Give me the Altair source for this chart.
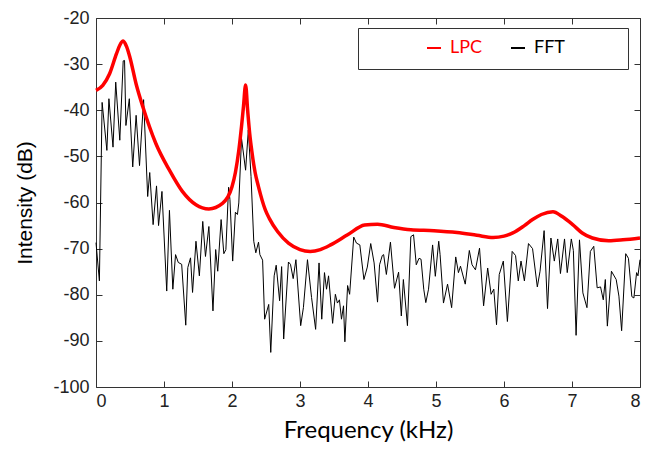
import altair as alt
import pandas as pd

# ---- data ----
fft_freq = [0.00, 0.05, 0.09, 0.16, 0.19, 0.25, 0.29, 0.35, 0.40, 0.42, 0.44, 0.49, 0.54, 0.59, 0.64,
            0.70, 0.76, 0.79, 0.84, 0.89, 0.92, 0.97, 1.04, 1.08, 1.13, 1.17, 1.21, 1.26, 1.32, 1.35,
            1.39, 1.42, 1.47, 1.52, 1.57, 1.61, 1.66, 1.72, 1.76, 1.79, 1.84, 1.88, 1.91, 1.95, 1.97,
            2.01, 2.05, 2.08, 2.10, 2.14, 2.20, 2.24, 2.28, 2.32, 2.35, 2.39, 2.41, 2.45, 2.48, 2.54,
            2.57, 2.62, 2.65, 2.70, 2.73, 2.76, 2.83, 2.86, 2.90, 2.94, 3.01, 3.05, 3.11, 3.17, 3.23,
            3.28, 3.32, 3.36, 3.39, 3.42, 3.48, 3.52, 3.55, 3.58, 3.61, 3.64, 3.66, 3.70, 3.73, 3.79,
            3.83, 3.88, 3.94, 3.99, 4.04, 4.09, 4.14, 4.17, 4.21, 4.23, 4.27, 4.33, 4.39, 4.45, 4.49,
            4.52, 4.58, 4.63, 4.67, 4.71, 4.75, 4.78, 4.82, 4.85, 4.89, 4.95, 4.99, 5.04, 5.06, 5.11,
            5.17, 5.23, 5.29, 5.33, 5.36, 5.43, 5.49, 5.53, 5.58, 5.64, 5.70, 5.76, 5.81, 5.85, 5.89,
            5.93, 5.99, 6.05, 6.12, 6.17, 6.21, 6.25, 6.30, 6.36, 6.42, 6.49, 6.53, 6.59, 6.64, 6.69,
            6.74, 6.79, 6.83, 6.89, 6.93, 6.99, 7.02, 7.06, 7.11, 7.16, 7.22, 7.27, 7.32, 7.37, 7.42,
            7.46, 7.49, 7.52, 7.58, 7.65, 7.69, 7.73, 7.79, 7.83, 7.88, 7.91, 7.95, 7.97, 8.00]
fft_db = [-68.7, -77.0, -38.3, -48.7, -37.5, -48.0, -33.9, -46.5, -29.3, -29.2, -43.3, -37.5, -52.3, -41.1, -52.0,
          -37.7, -58.7, -53.5, -64.8, -56.4, -65.0, -57.6, -79.2, -61.7, -78.8, -71.3, -73.0, -73.4, -86.6, -74.1,
          -72.0, -79.5, -68.4, -75.9, -64.1, -71.7, -65.2, -83.5, -70.2, -74.9, -63.7, -71.1, -70.2, -56.7, -59.4,
          -72.7, -62.1, -62.6, -60.1, -46.1, -53.0, -44.3, -54.4, -68.4, -70.9, -68.6, -71.3, -72.5, -85.3, -82.1,
          -92.5, -75.9, -73.6, -81.3, -73.9, -89.6, -72.9, -73.4, -76.5, -72.4, -86.7, -82.8, -72.4, -80.6, -87.5,
          -73.1, -85.3, -75.2, -78.8, -75.9, -86.2, -79.9, -81.8, -81.1, -85.3, -82.4, -90.2, -78.0, -79.9, -67.5,
          -68.8, -69.2, -76.7, -74.0, -68.9, -73.1, -81.6, -73.5, -71.5, -71.3, -75.6, -68.6, -78.6, -75.1, -84.6,
          -76.7, -86.7, -67.4, -67.0, -73.5, -72.1, -72.3, -78.8, -81.7, -78.8, -69.2, -76.0, -68.4, -71.3, -81.8,
          -77.7, -82.8, -71.8, -75.2, -73.8, -77.7, -70.4, -73.5, -74.6, -69.9, -82.4, -74.2, -79.9, -78.8, -86.5,
          -75.6, -72.7, -85.8, -70.6, -71.5, -77.0, -72.7, -77.0, -68.9, -70.0, -78.3, -74.9, -66.1, -83.0, -67.7,
          -72.7, -67.9, -75.4, -67.9, -75.2, -67.9, -70.4, -88.8, -68.1, -79.6, -82.8, -70.6, -69.5, -78.5, -78.3,
          -81.1, -76.7, -86.8, -74.9, -76.7, -80.3, -87.8, -71.1, -72.1, -80.4, -80.7, -75.2, -75.9, -72.4]

lpc_freq = [0.0, 0.1, 0.2, 0.3, 0.35, 0.4, 0.45, 0.5, 0.59, 0.69, 0.88, 1.08, 1.27, 1.47, 1.66, 1.86,
            2.0, 2.05, 2.10, 2.14, 2.17, 2.20, 2.23, 2.26, 2.29, 2.34, 2.39, 2.49, 2.55, 2.67, 2.83,
            3.0, 3.15, 3.3, 3.45, 3.7, 3.95, 4.14, 4.38, 4.63, 4.97, 5.31, 5.6, 5.84, 6.0, 6.13, 6.3,
            6.42, 6.55, 6.72, 6.85, 7.01, 7.15, 7.3, 7.54, 7.75, 8.0]
lpc_db = [-35.7, -34.6, -32.1, -27.8, -25.9, -25.0, -26.2, -28.6, -34.3, -39.3, -47.2, -53.0, -57.6, -60.5, -61.4, -60.2,
          -56.6, -53.5, -48.7, -43.5, -39.0, -34.5, -40.0, -45.0, -48.7, -53.5, -56.6, -61.6, -63.5, -66.3, -68.8,
          -70.2, -70.6, -70.2, -69.2, -67.0, -64.9, -64.7, -65.4, -65.9, -66.1, -66.5, -67.1, -67.6, -67.3, -66.6, -65.0,
          -63.7, -62.6, -62.0, -63.0, -64.8, -66.6, -67.7, -68.3, -68.1, -67.7]

x_ticks = [0, 1, 2, 3, 4, 5, 6, 7, 8]
y_ticks = [-100, -90, -80, -70, -60, -50, -40, -30, -20]
series = ["LPC", "FFT"]
series_colors = ["#ff0000", "#000000"]

fft_df = pd.DataFrame({"freq": fft_freq, "db": fft_db, "series": "FFT"})
lpc_df = pd.DataFrame({"freq": lpc_freq, "db": lpc_db, "series": "LPC"})

xscale = alt.Scale(domain=[0, 8], nice=False, zero=False)
yscale = alt.Scale(domain=[-100, -20], nice=False, zero=False)

FRAME = "#333333"
BLANK = "\u2800"
tick_style = dict(domain=False, grid=False, ticks=True, tickSize=6, tickColor=FRAME,
                  tickWidth=1, offset=-6)

legend = alt.Legend(
    title=BLANK * 4, titleOrient="left", titleFontSize=19, titleFont="Lato", titlePadding=0,
    orient="none", legendX=262, legendY=10, direction="horizontal",
    symbolType="stroke", symbolSize=196, symbolStrokeWidth=2,
    labelFont="Lato", labelFontSize=18, labelOffset=7, columnPadding=24,
    padding=11, strokeColor=FRAME, fillColor="white",
    labelExpr="datum.label == 'FFT' ? datum.label + '" + BLANK * 4 + "' : datum.label",
    labelColor=alt.ExprRef("datum.value == 'LPC' ? '#ff0000' : '#000000'"),
)
color = alt.Color("series:N", scale=alt.Scale(domain=series, range=series_colors), legend=legend)

fft = alt.Chart(fft_df).mark_line(strokeWidth=1, interpolate="linear").encode(
    x=alt.X("freq:Q", scale=xscale,
            axis=alt.Axis(values=x_ticks, orient="top", labels=False, title=None, **tick_style)),
    y=alt.Y("db:Q", scale=yscale,
            axis=alt.Axis(values=y_ticks, orient="right", labels=False, title=None, **tick_style)),
    color=color,
)

lpc = alt.Chart(lpc_df).mark_line(strokeWidth=3.5, interpolate="monotone").encode(
    x=alt.X("freq:Q", scale=xscale,
            axis=alt.Axis(values=x_ticks, orient="bottom", title="Frequency (kHz)",
                          labelExpr="'' + datum.value",
                          labelFont="Liberation Sans", labelFontSize=18, labelColor="#222222",
                          labelPadding=5, titleFont="Lato", titleFontSize=24, titleFontWeight="normal",
                          titleColor="#000000", titlePadding=8, **tick_style)),
    y=alt.Y("db:Q", scale=yscale,
            axis=alt.Axis(values=y_ticks, orient="left", title="Intensity (dB)",
                          labelExpr="'' + datum.value",
                          labelFont="Liberation Sans", labelFontSize=18, labelColor="#222222",
                          labelPadding=7, titleFont="Liberation Sans", titleFontSize=21,
                          titleFontWeight="normal", titleColor="#000000", titlePadding=17, **tick_style)),
    color=color,
)

chart = alt.layer(fft, lpc).resolve_axis(x="independent", y="independent").properties(
    width=544, height=369,
    autosize=alt.AutoSizeParams(type="none"),
    padding={"left": 88, "top": 10, "right": 5, "bottom": 56},
    background="white",
).configure_view(stroke=FRAME, strokeWidth=1)

chart.save("out.html", embed_options={"renderer": "svg", "actions": False})
